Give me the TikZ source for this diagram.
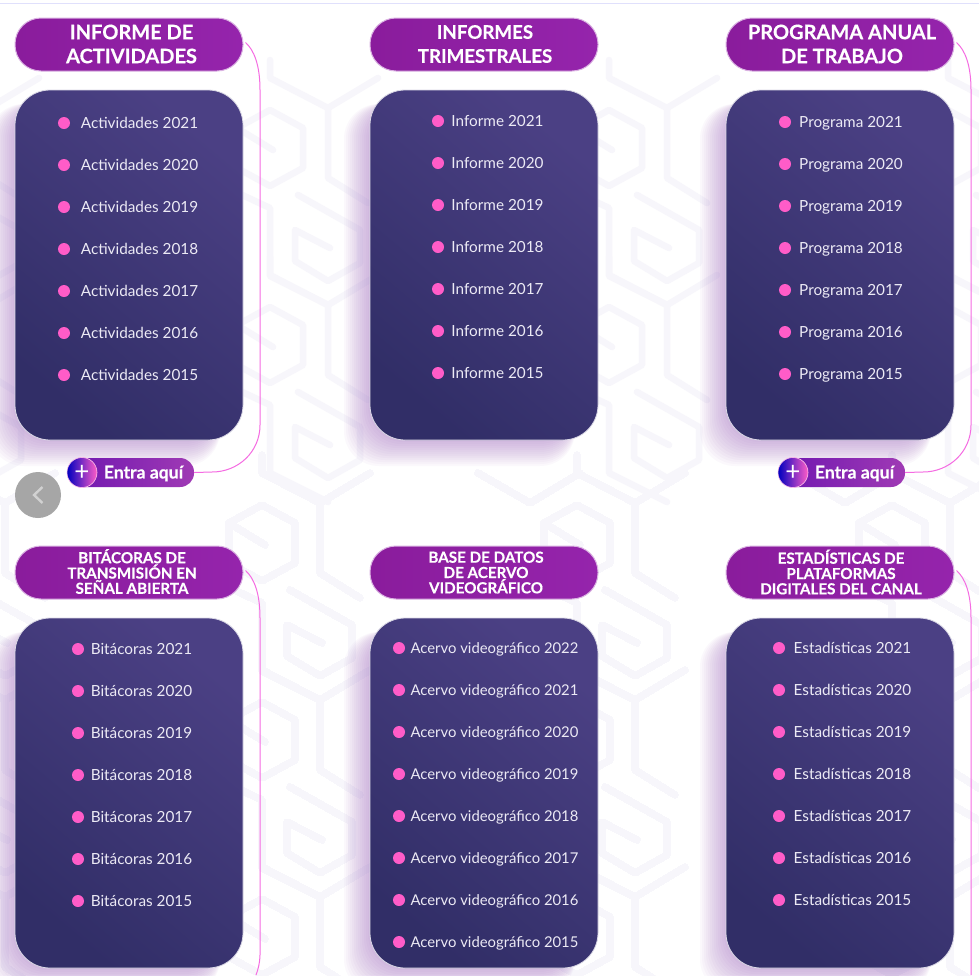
\documentclass[tikz,border=0pt]{standalone}
\usepackage{fontspec}
\setmainfont{Lato}[BoldFeatures={FakeBold=0.4}]
\definecolor{titlea}{HTML}{8A1C9C}
\definecolor{titleb}{HTML}{9524AC}
\definecolor{panela}{HTML}{4B4084}
\definecolor{panelb}{HTML}{312E67}
\definecolor{dotpink}{HTML}{FF5CC8}
\definecolor{linkpink}{HTML}{F56BE2}
\definecolor{itemcol}{HTML}{ECEAF5}
\definecolor{bgcol}{HTML}{F7F6FB}
\definecolor{glow}{HTML}{9A5FBC}

\tikzstyle{titlebox}=[rounded corners=26, minimum width=228, minimum height=53, inner sep=0, draw=titleb!35, line width=1, left color=titlea, right color=titleb]
\tikzstyle{titletext}=[text=white, align=center, inner sep=0, font=\fontsize{20}{24}\selectfont\bfseries]
\tikzstyle{titlesmall}=[titletext, font=\fontsize{15.2}{15.3}\selectfont\bfseries]
\tikzstyle{panel}=[rounded corners=35, minimum width=228, minimum height=350, inner sep=0, draw=white!80!panela, line width=0.8, top color=panela, bottom color=panelb, shading angle=-40]
\tikzstyle{dot}=[circle, fill=dotpink, minimum size=12, inner sep=0]
\tikzstyle{itemtext}=[text=itemcol, inner sep=0, text height=11, text depth=0, font=\fontsize{15.3}{18}\selectfont]
\tikzstyle{itemsmall}=[itemtext, font=\fontsize{14.85}{18}\selectfont]
\tikzstyle{link}=[draw=linkpink, line width=1]
\tikzstyle{enter}=[rounded corners=14, minimum width=126, minimum height=29, inner sep=0, left color=titlea!80!blue, right color=titleb!90!white]
\tikzstyle{entertext}=[text=white, inner sep=0, font=\fontsize{17.6}{18}\selectfont\bfseries]
\tikzstyle{plus}=[circle, minimum size=30, inner sep=0, left color=blue!75!black, right color=dotpink, text=white, draw=white!60!dotpink, line width=0.6, font=\fontsize{26}{26}\selectfont]
\tikzstyle{bgline}=[draw=bgcol, line width=6.5, line join=round, line cap=round]

% soft glow left of and under a panel
\newcommand{\panelglow}[2]{
\foreach \s in {2,4,...,26}
  \fill[glow, opacity=0.04, rounded corners=35] (#1-\s,#2+14) rectangle (#1+205,#2+350+\s);
}
% one piece of the faint background pattern
\newcommand{\bgtile}[2]{
\begin{scope}[shift={(#1,#2)}]
\draw[bgline] (-58,-48) -- (-58,-30) -- (0,0) -- (50,-30);
\draw[bgline] (0,0) -- (0,70) -- (40,95);
\draw[bgline] (-91,20) -- (-58,2) -- (-25,20) -- (-25,60) -- (-58,78) -- (-91,60) -- (-91,20) -- (-55,42);
\draw[bgline] (-30,87) -- (32,122) -- (32,155) -- (0,173) -- (-33,153) -- (-33,122) -- (2,140);
\draw[bgline] (-90,85) -- (-58,100) -- (-58,168) -- (0,197);
\end{scope}
}
\newcommand{\bgvee}[2]{
\begin{scope}[shift={(#1,#2)}]
\draw[bgline] (-52,-30) -- (0,0) -- (50,-30);
\end{scope}
}

\begin{document}
\begin{tikzpicture}[x=1pt,y=-1pt]
\useasboundingbox (0,0) rectangle (979,975);
\fill[white] (0,0) rectangle (979,975);

\foreach \tx in {-11,328,667,1006}
  \foreach \ty in {108,305}
    \bgtile{\tx}{\ty}
\foreach \tx in {5,320,635,950}
  \foreach \ty in {503,700,897}
    \bgtile{\tx}{\ty}
\foreach \tx in {530,845}
  \foreach \ty in {503,700,897}
    \bgvee{\tx}{\ty}
\draw[draw=black!10!blue!12, line width=1.6] (0,3.6) -- (979,3.6);

\panelglow{15}{90}
\panelglow{370}{90}
\panelglow{726}{90}
\panelglow{15}{618}
\panelglow{370}{618}
\panelglow{726}{618}

% top row
\node[titlebox] (t1) at (129,44.5) {};
\node[titlebox] (t2) at (484,44.5) {};
\node[titlebox] (t3) at (840,44.5) {};
\node[titletext] (l1) at (131.5,44) {INFORME DE\\ACTIVIDADES};
\node[titletext, font=\fontsize{18.7}{24}\selectfont\bfseries] (l2) at (485,44) {INFORMES\\TRIMESTRALES};
\node[titletext] (l3) at (842,44) {PROGRAMA ANUAL\\DE TRABAJO};
\node[panel] (p1) at (129,265) {};
\node[panel] (p2) at (484,265) {};
\node[panel] (p3) at (840,265) {};

\foreach \y/\yr in {123/2021,165/2020,207/2019,249/2018,291/2017,333/2016,375/2015}{
\node[dot] (da\yr) at (64,\y) {};
\node[itemtext] (ia\yr) at (139.5,\y) {Actividades \yr};
}
\foreach \y/\yr in {121/2021,163/2020,205/2019,247/2018,289/2017,331/2016,373/2015}{
\node[dot] (db\yr) at (438,\y) {};
\node[itemtext] (ib\yr) at (497.5,\y) {Informe \yr};
}
\foreach \y/\yr in {122/2021,164/2020,206/2019,248/2018,290/2017,332/2016,374/2015}{
\node[dot] (dc\yr) at (785,\y) {};
\node[itemtext] (ic\yr) at (851,\y) {Programa \yr};
}

% bottom row
\node[titlebox] (t4) at (129,572.5) {};
\node[titlebox] (t5) at (484,572.5) {};
\node[titlebox] (t6) at (840,572.5) {};
\node[titlesmall] (l4) at (132,571.5) {BITÁCORAS DE\\TRANSMISIÓN EN\\SEÑAL ABIERTA};
\node[titlesmall] (l5) at (486,572.5) {BASE DE DATOS\\DE ACERVO\\VIDEOGRÁFICO};
\node[titlesmall] (l6) at (841,572) {ESTADÍSTICAS DE\\PLATAFORMAS\\DIGITALES DEL CANAL};
\node[panel] (p4) at (129,793) {};
\node[panel] (p5) at (484,793) {};
\node[panel] (p6) at (840,793) {};

\foreach \y/\yr in {649/2021,691/2020,733/2019,775/2018,817/2017,859/2016,901/2015}{
\node[dot] (dd\yr) at (78,\y) {};
\node[itemtext] (id\yr) at (141.5,\y) {Bitácoras \yr};
}
\foreach \y/\yr in {648/2022,690/2021,732/2020,774/2019,816/2018,858/2017,900/2016,942/2015}{
\node[dot] (de\yr) at (399,\y) {};
\node[itemsmall] (ie\yr) at (494.5,\y) {Acervo videográfico \yr};
}
\foreach \y/\yr in {648/2021,690/2020,732/2019,774/2018,816/2017,858/2016,900/2015}{
\node[dot] (df\yr) at (779,\y) {};
\node[itemtext] (if\yr) at (852.5,\y) {Estadísticas \yr};
}

% buttons
\node[enter] (b1) at (131,472.5) {};
\node[entertext] (e1) at (143.5,473.5) {Entra aquí};
\node[plus] (c1) at (82,472.5) {+};
\node[enter] (b2) at (842,472.5) {};
\node[entertext] (e2) at (854.5,473.5) {Entra aquí};
\node[plus] (c2) at (793,472.5) {+};
\node[circle, fill=black!35, minimum size=46, inner sep=0] (back) at (38,495) {};
\draw[black!18, line width=2.4] ([shift={(4.5,-8)}]back.center) -- ([shift={(-4,0)}]back.center) -- ([shift={(4.5,8)}]back.center);

% connectors
\coordinate (e4) at (256,975);
\coordinate (e6) at (971,975);
\draw[link] (t1.east) ++(2,-2) .. controls (254,50) and (260,65) .. (260,90) -- (260,425) .. controls (260,452) and (238,472) .. (212,472) -- (b1.east);
\draw[link] (t3.east) ++(2,-2) .. controls (965,50) and (971,65) .. (971,90) -- (971,425) .. controls (971,452) and (949,472) .. (923,472) -- (b2.east);
\draw[link] (t4.east) ++(2,-2) .. controls (254,578) and (260,593) .. (260,618) -- (260,955) .. controls (260,962) and (258,970) .. (e4);
\draw[link] (t6.east) ++(2,-2) .. controls (965,578) and (971,593) .. (971,618) -- (e6);
\end{tikzpicture}
\end{document}
